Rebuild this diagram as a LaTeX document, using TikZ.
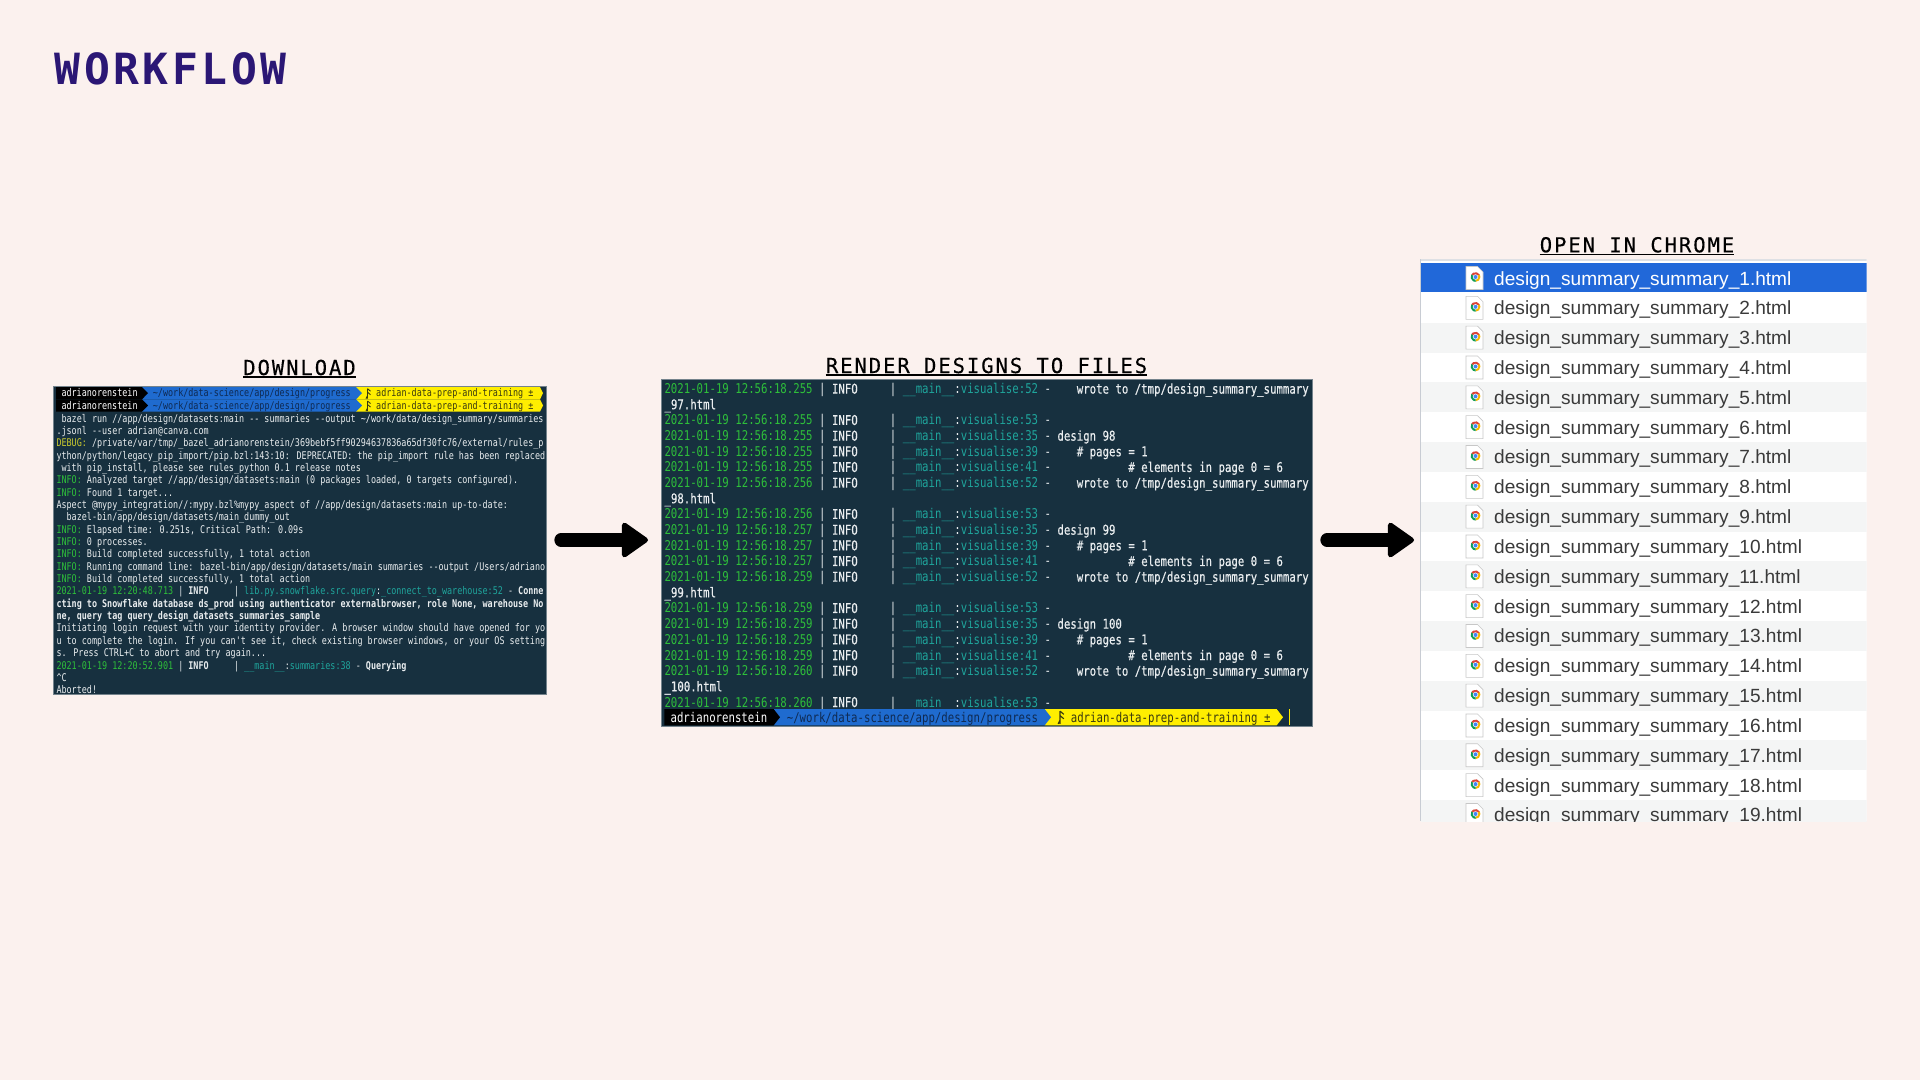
\documentclass[tikz,border=0pt]{standalone}
\usepackage{fontspec}
\usetikzlibrary{arrows.meta}
\newfontfamily\monostretched[FakeStretch=0.795]{DejaVu Sans Mono}
\newfontfamily\monomedium[FakeStretch=0.795,FakeBold=0.35]{DejaVu Sans Mono}
\newfontfamily\titlemono[LetterSpace=9.2,FakeBold=0.35]{DejaVu Sans Mono}
\newfontfamily\mainmono[LetterSpace=8.2]{DejaVu Sans Mono}
\newfontfamily\listsans{Liberation Sans}
\definecolor{pagebg}{HTML}{FBF1EE}
\definecolor{termbg}{HTML}{17303F}
\definecolor{tgreen}{HTML}{2EBF3A}
\definecolor{tteal}{HTML}{1FA59C}
\definecolor{twhite}{HTML}{E9EDEF}
\definecolor{tyellow}{HTML}{C9C92E}
\definecolor{pblue}{HTML}{1F6BCF}
\definecolor{pyellow}{HTML}{FFEE00}
\definecolor{navytext}{HTML}{0F2A52}
\definecolor{darkyel}{HTML}{3A3A10}
\definecolor{titlepurple}{HTML}{2B1775}
\definecolor{selblue}{HTML}{2168D9}
\definecolor{rowgray}{HTML}{F4F5F5}
\definecolor{filetext}{HTML}{3A3A3A}
\definecolor{edgegray}{HTML}{C8CCD3}
\definecolor{chred}{HTML}{DB4437}
\definecolor{chyel}{HTML}{F4B400}
\definecolor{chgrn}{HTML}{0F9D58}
\definecolor{chblu}{HTML}{4285F4}
\newcommand\cgreen[1]{\textcolor{tgreen}{#1}}
\newcommand\cteal[1]{\textcolor{tteal}{#1}}
\newcommand\cyell[1]{\textcolor{tyellow}{#1}}
\newcommand\medtext[1]{{\monomedium #1}}
\newcommand\us{\_}
\tikzset{
  x=1pt,y=-1pt,
  terma/.style={anchor=base west,inner sep=0pt,text=twhite,font=\monostretched\fontsize{10.6}{12}\selectfont},
  termb/.style={anchor=base west,inner sep=0pt,text=twhite,font=\monostretched\fontsize{13.46}{15}\selectfont},
  panel/.style={rectangle,fill=termbg,draw=termbg!60!white,line width=0.5pt,inner sep=0pt},
  heading/.style={anchor=base,inner sep=0pt,text=black,font=\titlemono\fontsize{20.6}{24}\selectfont},
  headrule/.style={draw=black,line width=1.3pt},
  flowarrow/.style={draw=black,line width=13.3pt,line cap=round,-{Triangle[length=28pt,width=38pt,round,line width=5pt]}},
  filename/.style={anchor=base west,inner sep=0pt,font=\listsans\fontsize{19.1}{21}\selectfont},
}
% row of first terminal
\newcommand\ta[2]{\node[terma] (ta#1) at (56.3,{393.7+(#1-1)*12.35+3.6}) {#2};}
% log row of second terminal
\newcommand\tb[2]{\node[termb] (tb#1) at (664.3,{389+#1*15.67+4.6}) {#2};}
\newcommand\tblog[4]{\tb{#1}{\cgreen{2021-01-19 12:56:18.#2} | \medtext{INFO}~~~~~| \cteal{\us\us main\us\us}:\cteal{visualise:#3} - \medtext{#4}}}
% powerline segment
\newcommand\seg[6]{\fill[#1] (#2,#5) -- (#3,#5) -- (#4,{(#5+#6)/2}) -- (#3,#6) -- (#2,#6) -- cycle;}
% branch glyph
\newcommand\branchmark[3]{\draw[darkyel,line width=#3*0.9pt] (#1,{#2-5*#3}) -- (#1,{#2+5*#3}) (#1,{#2-5*#3}) -- ({#1+3*#3},{#2-2.5*#3}) (#1,{#2-1.5*#3}) -- ({#1+3*#3},{#2+1*#3}) (#1,{#2+2*#3}) -- ({#1-1.5*#3},{#2+5*#3});}
% file icon
\newcommand\fileicon[2]{%
  \fill[white,draw=black!22,line width=0.6pt] (1466,{#2-11.5}) -- (1477.5,{#2-11.5}) -- (1483,{#2-6}) -- (1483,{#2+11.5}) -- (1466,{#2+11.5}) -- cycle;
  \begin{scope}[shift={(1475.5,{#2-1})}]
    \fill[chred] (0,0) -- (30:4.9pt) arc[start angle=30,end angle=150,radius=4.9pt] -- cycle;
    \fill[chyel] (0,0) -- (-90:4.9pt) arc[start angle=-90,end angle=30,radius=4.9pt] -- cycle;
    \fill[chgrn] (0,0) -- (150:4.9pt) arc[start angle=150,end angle=270,radius=4.9pt] -- cycle;
    \fill[white] (0,0) circle[radius=2.7pt];
    \fill[chblu] (0,0) circle[radius=2pt];
  \end{scope}}
\begin{document}
\begin{tikzpicture}
\useasboundingbox (0,0) rectangle (1920,1080);
\fill[pagebg] (0,0) rectangle (1920,1080);

% ---- main heading
\node[anchor=base west,inner sep=0pt,text=titlepurple,font=\mainmono\bfseries\fontsize{43}{46}\selectfont] (wf) at (54.5,84) {WORKFLOW};

% ---- headings
\node[heading] (h1) at (299.5,375) {DOWNLOAD};
\node[heading] (h2) at (986.5,373) {RENDER DESIGNS TO FILES};
\node[heading] (h3) at (1637,252.3) {OPEN IN CHROME};
\foreach \h in {h1,h2,h3}
  \draw[headrule] ([yshift=-2pt]\h.base west) -- ([yshift=-2pt]\h.base east);

% ---- first terminal
\node[panel,minimum width=493pt,minimum height=308pt] (t1) at (299.5,540) {};
\seg{pyellow}{356}{540}{543}{387}{399.3}
\seg{pyellow}{356}{540}{543}{399.3}{411.7}
\seg{pblue}{142}{356}{362}{387}{399.3}
\seg{pblue}{142}{356}{362}{399.3}{411.7}
\seg{black}{56}{142}{148}{387}{399.3}
\seg{black}{56}{142}{148}{399.3}{411.7}
\foreach \yy/\nm in {396.9/a,409.2/b}{
  \node[terma,text=white] (pa\nm) at (61.3,\yy) {adrianorenstein};
  \node[terma,text=navytext] (pb\nm) at (152.7,\yy) {\textasciitilde/work/data-science/app/design/progress};
  \node[terma,text=darkyel] (pc\nm) at (376,\yy) {adrian-data-prep-and-training ±};
}
\branchmark{367.5}{393.7}{1}
\branchmark{367.5}{406}{1}
\ta{3}{~bazel run //app/design/datasets:main -- summaries --output \textasciitilde/work/data/design\us summary/summaries}
\ta{4}{.jsonl --user adrian@canva.com}
\ta{5}{\cyell{DEBUG:} /private/var/tmp/\us bazel\us adrianorenstein/369bebf5ff90294637836a65df30fc76/external/rules\us p}
\ta{6}{ython/python/legacy\us pip\us import/pip.bzl:143:10: DEPRECATED: the pip\us import rule has been replaced}
\ta{7}{~with pip\us install, please see rules\us python 0.1 release notes}
\ta{8}{\cgreen{INFO:} Analyzed target //app/design/datasets:main (0 packages loaded, 0 targets configured).}
\ta{9}{\cgreen{INFO:} Found 1 target...}
\ta{10}{Aspect @mypy\us integration//:mypy.bzl\%mypy\us aspect of //app/design/datasets:main up-to-date:}
\ta{11}{~~bazel-bin/app/design/datasets/main\us dummy\us out}
\ta{12}{\cgreen{INFO:} Elapsed time: 0.251s, Critical Path: 0.09s}
\ta{13}{\cgreen{INFO:} 0 processes.}
\ta{14}{\cgreen{INFO:} Build completed successfully, 1 total action}
\ta{15}{\cgreen{INFO:} Running command line: bazel-bin/app/design/datasets/main summaries --output /Users/adriano}
\ta{16}{\cgreen{INFO:} Build completed successfully, 1 total action}
\ta{17}{\cgreen{2021-01-19 12:20:48.713} | \textbf{INFO}~~~~~| \cteal{lib.py.snowflake.src.query}:\cteal{\us connect\us to\us warehouse:52} - \textbf{Conne}}
\ta{18}{\textbf{cting to Snowflake database ds\us prod using authenticator externalbrowser, role None, warehouse No}}
\ta{19}{\textbf{ne, query tag query\us design\us datasets\us summaries\us sample}}
\ta{20}{Initiating login request with your identity provider. A browser window should have opened for yo}
\ta{21}{u to complete the login. If you can't see it, check existing browser windows, or your OS setting}
\ta{22}{s. Press CTRL+C to abort and try again...}
\ta{23}{\cgreen{2021-01-19 12:20:52.901} | \textbf{INFO}~~~~~| \cteal{\us\us main\us\us}:\cteal{summaries:38} - \textbf{Querying}}
\ta{24}{\textasciicircum C}
\ta{25}{Aborted!}

% ---- second terminal
\node[panel,minimum width=651pt,minimum height=346.7pt] (t2) at (986.3,552.65) {};
\tblog{0}{255}{52}{~~~wrote to /tmp/design\us summary\us summary}
\tb{1}{\medtext{\us 97.html}}
\tblog{2}{255}{53}{}
\tblog{3}{255}{35}{design 98}
\tblog{4}{255}{39}{~~~\# pages = 1}
\tblog{5}{255}{41}{~~~~~~~~~~~\# elements in page 0 = 6}
\tblog{6}{256}{52}{~~~wrote to /tmp/design\us summary\us summary}
\tb{7}{\medtext{\us 98.html}}
\tblog{8}{256}{53}{}
\tblog{9}{257}{35}{design 99}
\tblog{10}{257}{39}{~~~\# pages = 1}
\tblog{11}{257}{41}{~~~~~~~~~~~\# elements in page 0 = 6}
\tblog{12}{259}{52}{~~~wrote to /tmp/design\us summary\us summary}
\tb{13}{\medtext{\us 99.html}}
\tblog{14}{259}{53}{}
\tblog{15}{259}{35}{design 100}
\tblog{16}{259}{39}{~~~\# pages = 1}
\tblog{17}{259}{41}{~~~~~~~~~~~\# elements in page 0 = 6}
\tblog{18}{260}{52}{~~~wrote to /tmp/design\us summary\us summary}
\tb{19}{\medtext{\us 100.html}}
\tblog{20}{260}{53}{}
\seg{pyellow}{1044.6}{1276.6}{1283}{709}{725.4}
\seg{pblue}{773.6}{1044.6}{1051}{709}{725.4}
\seg{black}{664.3}{773.6}{780}{709}{725.4}
\fill[pyellow] (1289,709) rectangle (1290.4,725.4);
\node[termb,text=white] (pd) at (670.4,722.3) {adrianorenstein};
\node[termb,text=navytext] (pe) at (786.6,722.3) {\textasciitilde/work/data-science/app/design/progress};
\node[termb,text=darkyel] (pf) at (1070.6,722.3) {adrian-data-prep-and-training ±};
\branchmark{1060}{717.5}{1.27}

% ---- arrows
\coordinate (a1s) at (561,540);
\coordinate (a1e) at (648,540);
\coordinate (a2s) at (1327,540);
\coordinate (a2e) at (1414,540);
\draw[flowarrow] (a1s) -- (a1e);
\draw[flowarrow] (a2s) -- (a2e);

% ---- file list
\begin{scope}
  \clip (1420,259) rectangle (1866.7,821);
  \fill[white] (1420,259) rectangle (1866.7,821);
  \fill[edgegray!60!white] (1420,259) rectangle (1866.7,261);
  \foreach \i in {1,...,19}{
    \pgfmathsetmacro\yc{278+(\i-1)*29.83}
    \ifnum\i=1
      \fill[selblue] (1421,263.3) rectangle (1866.7,292);
    \else\ifodd\i
      \fill[rowgray] (1421,{\yc-14.9}) rectangle (1866.7,{\yc+14.9});
    \fi\fi
    \fileicon{\i}{\yc}
    \ifnum\i=1
      \node[filename,text=white] (fn\i) at (1494,{\yc+7}) {design\us summary\us summary\us\i.html};
    \else
      \node[filename,text=filetext] (fn\i) at (1494,{\yc+7}) {design\us summary\us summary\us\i.html};
    \fi
  }
  \fill[edgegray] (1420,259) rectangle (1421.4,821);
\end{scope}
\end{tikzpicture}
\end{document}
